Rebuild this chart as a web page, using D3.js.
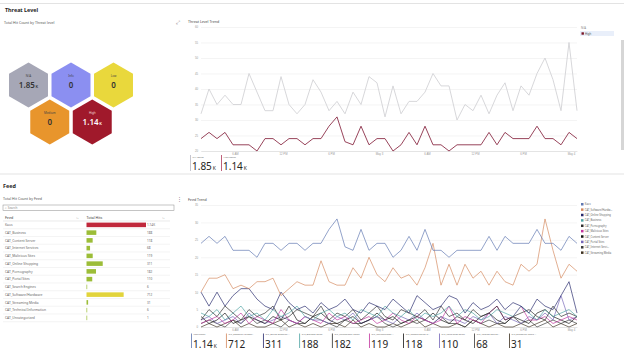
<!DOCTYPE html>
<html>
<head>
<meta charset="utf-8">
<script src="https://cdn.jsdelivr.net/npm/d3@7"></script>
<style>
    body { margin: 0; background: #fff; font-family: "Noto Sans", "Open Sans", sans-serif; }
    svg { display: block; }
</style>
</head>
<body>
<div id="chart"></div>
<script>
// ---- data ----
const threatLevels = ["N/A", "Info", "Low", "Medium", "High"];
const threatTotals = [1850, 0, 0, 0, 1140];
const threatColors = ["#a6a7b6", "#8b8ff1", "#e9d83c", "#e8952c", "#a0192b"];

// hourly points, first one at 01:45 on May 2
const trendStart = new Date(2023, 4, 2, 1, 45);
const naTrend = [32, 40, 35, 38, 35, 35, 45, 39, 33, 33, 44, 35, 32, 35, 43, 39, 33, 36, 32, 39, 35, 44, 42, 31,
    41, 32, 36, 36, 39, 45, 41, 41, 30, 35, 33, 38, 32, 38, 42, 33, 41, 38, 45, 50, 43, 33, 55, 33];
const highTrend = [24, 26, 24, 26, 22, 22, 22, 20, 24, 24, 22, 24, 24, 22, 24, 24, 28, 31, 23, 22, 28, 22, 24, 24,
    20, 22, 26, 22, 28, 22, 22, 20, 22, 22, 22, 22, 26, 22, 26, 24, 24, 24, 28, 24, 24, 22, 26, 24];
const threatTicksY = [20, 25, 30, 35, 40, 45, 50, 55, 60];

const feedNames = ["Kaos", "CAT_Business", "CAT_Content Server", "CAT_Internet Services", "CAT_Malicious Sites",
    "CAT_Online Shopping", "CAT_Pornography", "CAT_Portal Sites", "CAT_Search Engines", "CAT_Software/Hardware",
    "CAT_Streaming Media", "CAT_Technical Information", "CAT_Uncategorized"];
const feedTotals = [1140, 188, 118, 68, 119, 311, 182, 110, 6, 712, 31, 6, 1];

const trendFeeds = ["Kaos", "CAT_Software/Hardware", "CAT_Online Shopping", "CAT_Business", "CAT_Pornography",
    "CAT_Malicious Sites", "CAT_Content Server", "CAT_Portal Sites", "CAT_Internet Services", "CAT_Streaming Media"];
const trendFeedColors = ["#5f77b0", "#d4895e", "#26296c", "#4ea3a3", "#2e2e2e", "#c2349e", "#151515", "#7566b8",
    "#3a3a3a", "#3d3020"];
const kaosTrend = highTrend;
const softwareTrend = [10, 14, 14, 15, 11, 12, 11, 13, 13, 14, 9, 11, 13, 12, 12, 19, 13, 12, 12, 17, 14, 20, 15, 13,
    17, 14, 15, 12, 17, 24, 12, 18, 12, 18, 14, 16, 12, 16, 13, 12, 18, 16, 18, 31, 22, 14, 18, 16];
const shoppingTrend = [10, 6, 10, 6, 9, 11, 11, 8, 6, 5, 10, 7, 5, 6, 4, 7, 5, 6, 8, 5, 4, 7, 6, 5,
    8, 6, 4, 9, 7, 5, 6, 9, 8, 4, 7, 5, 6, 8, 5, 7, 6, 4, 8, 6, 5, 9, 13, 4];
const businessTrend = [4, 3, 5, 2, 4, 6, 3, 4, 2, 5, 3, 4, 6, 3, 2, 4, 5, 3, 4, 2, 5, 4, 3, 6,
    4, 3, 5, 2, 4, 3, 4, 6, 3, 5, 4, 2, 3, 5, 4, 3, 6, 4, 2, 5, 3, 4, 5, 3];
const pornTrend = [2, 5, 3, 6, 4, 2, 5, 3, 4, 6, 2, 3, 5, 4, 3, 6, 2, 4, 3, 5, 2, 4, 6, 3,
    2, 5, 4, 3, 5, 2, 6, 3, 4, 2, 5, 3, 4, 6, 2, 3, 4, 5, 3, 2, 6, 3, 4, 3];
const maliciousTrend = [1, 2, 3, 1, 2, 4, 1, 3, 2, 1, 5, 2, 1, 3, 2, 1, 4, 2, 3, 1, 2, 3, 1, 2,
    4, 2, 1, 3, 2, 1, 2, 6, 1, 3, 2, 1, 4, 6, 2, 3, 6, 2, 2, 3, 1, 2, 3, 2];
const contentTrend = [3, 1, 2, 4, 1, 2, 3, 2, 1, 3, 2, 6, 2, 1, 3, 4, 2, 1, 2, 3, 1, 2, 4, 2,
    3, 1, 2, 3, 2, 4, 2, 1, 3, 2, 1, 3, 4, 2, 1, 3, 2, 1, 4, 5, 3, 2, 1, 3];
const portalTrend = [2, 3, 1, 2, 3, 1, 4, 2, 1, 2, 3, 2, 1, 3, 2, 2, 1, 3, 2, 4, 1, 2, 3, 2,
    1, 3, 2, 4, 2, 1, 3, 2, 2, 1, 3, 2, 4, 1, 3, 2, 1, 3, 2, 4, 2, 9, 2, 3];
const internetTrend = [1, 2, 1, 0, 2, 1, 3, 1, 2, 1, 0, 2, 1, 1, 3, 2, 1, 0, 2, 1, 1, 2, 3, 1,
    0, 1, 2, 1, 2, 1, 3, 1, 1, 0, 2, 1, 2, 1, 1, 3, 1, 2, 0, 1, 2, 1, 2, 1];
const streamingTrend = [0, 1, 0, 1, 2, 0, 1, 0, 0, 1, 2, 0, 1, 0, 1, 0, 1, 1, 0, 2, 0, 1, 0, 0,
    1, 0, 1, 2, 0, 1, 0, 0, 1, 0, 2, 1, 0, 1, 0, 0, 1, 0, 1, 2, 0, 1, 0, 1];
const trendFeedValues = [kaosTrend, softwareTrend, shoppingTrend, businessTrend, pornTrend, maliciousTrend,
    contentTrend, portalTrend, internetTrend, streamingTrend];
const feedTicksY = [0, 5, 10, 15, 20, 25, 30, 35];

// ---- layout ----
const W = 624, H = 351;
const trendX = { left: 201, right: 577 };
const threatPlot = { top: 27, bottom: 151 };
const feedPlot = { top: 205, bottom: 327 };
const tiny = 3.6;

const svg = d3.select("#chart").append("svg").attr("width", W).attr("height", H);

// page frame
svg.append("line").attr("x1", 0).attr("x2", W).attr("y1", 3.5).attr("y2", 3.5).attr("stroke", "#e3e3e3");
svg.append("line").attr("x1", 0).attr("x2", W).attr("y1", 174).attr("y2", 174).attr("stroke", "#e3e3e3");
svg.append("rect").attr("x", 621).attr("y", 40).attr("width", 3).attr("height", 110).attr("fill", "#d6d6d6");

function text(g, x, y, s, size, opts = {}) {
    return g.append("text").attr("x", x).attr("y", y).text(s)
        .attr("font-size", size)
        .attr("fill", opts.fill || "#444")
        .attr("font-weight", opts.weight || 400)
        .attr("text-anchor", opts.anchor || "start");
}

text(svg, 5, 12, "Threat Level", 5.4, { fill: "#252423", weight: 700 });
text(svg, 4, 24, "Total Hit Count by Threat level", tiny, { fill: "#555" });
text(svg, 176, 24, "⤢", 5, { fill: "#777" });
text(svg, 188, 23, "Threat Level Trend", tiny, { fill: "#444" });

text(svg, 3, 187.5, "Feed", 5.4, { fill: "#252423", weight: 700 });
text(svg, 3, 200, "Total Hit Count by Feed", tiny, { fill: "#555" });
text(svg, 177, 200.5, "⋮", 5, { fill: "#777" });
text(svg, 188, 201, "Feed Trend", tiny, { fill: "#444" });

// ---- hexagons ----
const hexR = 22.5;
const hexDx = 42.5, hexDy = 37;
const hexOrigin = { x: 28.5, y: 85 };
const hexPos = (i) => {
    const row = i < 3 ? 0 : 1;
    const col = i < 3 ? i : i - 3 + 0.5;
    return [hexOrigin.x + col * hexDx, hexOrigin.y + row * hexDy];
};
const hexPath = d3.line()(d3.range(6).map(k => {
    const a = (Math.PI / 180) * (60 * k - 90);
    return [hexR * Math.cos(a), hexR * Math.sin(a)];
})) + "Z";
const fmtK = (v) => v >= 1000 ? [(v / 1000).toFixed(2), "K"] : [String(v), ""];

const hex = svg.append("g").selectAll("g")
    .data(threatLevels.map((l, i) => ({ level: l, total: threatTotals[i], color: threatColors[i], i })))
    .join("g")
    .attr("transform", d => `translate(${hexPos(d.i)})`);
hex.append("path").attr("d", hexPath).attr("fill", d => d.color);
hex.append("text").attr("y", -8).attr("text-anchor", "middle").attr("font-size", 3)
    .attr("fill", d => d.level === "High" ? "#f3dede" : "#444").text(d => d.level);
const hexVal = hex.append("text").attr("y", 2.5).attr("text-anchor", "middle")
    .attr("font-size", 8).attr("font-weight", 600)
    .attr("fill", d => d.level === "High" ? "#fff" : "#333");
hexVal.append("tspan").text(d => fmtK(d.total)[0]);
hexVal.append("tspan").attr("font-size", 4).attr("dx", 0.8).text(d => fmtK(d.total)[1]);

// ---- shared time axis ----
const times = naTrend.map((_, i) => d3.timeHour.offset(trendStart, i));
const x = d3.scaleTime().domain(d3.extent(times)).range([trendX.left, trendX.right]);
const tickTimes = d3.timeHour.every(6).range(times[0], d3.timeHour.offset(times[times.length - 1], 1));
const tickFmt = (d) => d.getHours() === 0 ? d3.timeFormat("%b %-d")(d) : d3.timeFormat("%-I %p")(d);

function drawFrame(plot, y, ticks) {
    const g = svg.append("g");
    g.append("g").attr("transform", `translate(${trendX.left},0)`)
        .call(d3.axisLeft(y).tickValues(ticks).tickSize(-(trendX.right - trendX.left)).tickPadding(3))
        .call(a => a.select(".domain").remove())
        .call(a => a.selectAll("line").attr("stroke", "#ececec").attr("stroke-width", 0.6))
        .call(a => a.selectAll("text").attr("font-size", 2.8).attr("fill", "#999").attr("font-family", null));
    g.append("g").attr("transform", `translate(0,${plot.bottom})`)
        .call(d3.axisBottom(x).tickValues(tickTimes).tickFormat(tickFmt).tickSize(0).tickPadding(2.5))
        .call(a => a.select(".domain").attr("stroke", "#d8d8d8").attr("stroke-width", 0.6))
        .call(a => a.selectAll("text").attr("font-size", 2.8).attr("fill", "#999").attr("font-family", null));
    return g;
}

// ---- threat trend ----
const yThreat = d3.scaleLinear().domain([20, 60]).range([threatPlot.bottom, threatPlot.top]);
drawFrame(threatPlot, yThreat, threatTicksY);
const threatLine = d3.line().x((d, i) => x(times[i])).y(d => yThreat(d));
svg.append("path").datum(naTrend).attr("d", threatLine)
    .attr("fill", "none").attr("stroke", "#d2d2d6").attr("stroke-width", 0.9);
svg.append("path").datum(highTrend).attr("d", threatLine)
    .attr("fill", "none").attr("stroke", "#8c2f48").attr("stroke-width", 0.9);

// threat legend
svg.append("rect").attr("x", 580).attr("y", 31).attr("width", 34).attr("height", 5).attr("fill", "#e9effa");
text(svg, 581, 29, "N/A", 2.8, { fill: "#888" });
svg.append("rect").attr("x", 581.5).attr("y", 32.3).attr("width", 2.4).attr("height", 2.4).attr("fill", "#7a1526");
text(svg, 585, 34.5, "High", 2.8, { fill: "#555" });

// threat summary cards
const threatCards = [
    { label: "N/A Count", value: threatTotals[0], color: "#b8b8c4" },
    { label: "High Count", value: threatTotals[4], color: "#b03a5b" }
];
let cx = 190;
threatCards.forEach(c => {
    const g = svg.append("g").attr("transform", `translate(${cx},0)`);
    g.append("rect").attr("x", 0).attr("y", 155).attr("width", 0.8).attr("height", 16).attr("fill", c.color);
    text(g, 2.5, 157.5, c.label, 2.3, { fill: "#666" });
    const t = text(g, 2, 170, "", 10, { fill: "#252423" });
    t.append("tspan").text(fmtK(c.value)[0]);
    t.append("tspan").attr("font-size", 5).attr("dx", 1).text(fmtK(c.value)[1]);
    cx += 31;
});

// ---- feed table ----
svg.append("rect").attr("x", 3).attr("y", 205).attr("width", 171).attr("height", 5.6)
    .attr("fill", "#fff").attr("stroke", "#8a8a8a").attr("stroke-width", 0.5);
text(svg, 5, 209.2, "⌕ Search", 3, { fill: "#888" });

text(svg, 5, 219, "Feed", tiny, { fill: "#333" });
text(svg, 76, 219, "↑↓", 2.6, { fill: "#666" });
text(svg, 86.5, 219, "Total Hits", tiny, { fill: "#333" });
text(svg, 162, 219, "↑↓", 2.6, { fill: "#666" });

const rowY = d3.scaleBand().domain(feedNames).range([221, 221 + feedNames.length * 7.75]);
const barX = d3.scaleLinear().domain([0, d3.max(feedTotals)]).range([0, 59.5]);
const barColor = (v) => v >= 1000 ? "#c0283b" : v >= 500 ? "#e2d43b" : "#9cbd38";
const fmtRow = (v) => v >= 1000 ? (v / 1000).toFixed(2) + "K" : String(v);

const rows = svg.append("g").selectAll("g")
    .data(feedNames.map((f, i) => ({ feed: f, total: feedTotals[i] })))
    .join("g")
    .attr("transform", d => `translate(0,${rowY(d.feed)})`);
rows.append("line").attr("x1", 3).attr("x2", 170).attr("y1", rowY.bandwidth()).attr("y2", rowY.bandwidth())
    .attr("stroke", "#ececec").attr("stroke-width", 0.6);
rows.append("text").attr("x", 5).attr("y", rowY.bandwidth() / 2 + 1.2).attr("font-size", 3.3)
    .attr("fill", "#666").text(d => d.feed);
rows.append("rect").attr("x", 86.5).attr("y", 1.6).attr("height", rowY.bandwidth() - 3.2)
    .attr("width", d => Math.max(barX(d.total), 0.7)).attr("fill", d => barColor(d.total));
rows.append("text").attr("x", 147).attr("y", rowY.bandwidth() / 2 + 1.2).attr("font-size", 3.1)
    .attr("fill", "#666").text(d => fmtRow(d.total));
svg.append("line").attr("x1", 3).attr("x2", 170).attr("y1", 221).attr("y2", 221)
    .attr("stroke", "#dcdcdc").attr("stroke-width", 0.6);

// ---- feed trend ----
const yFeed = d3.scaleLinear().domain([0, 35]).range([feedPlot.bottom, feedPlot.top]);
drawFrame(feedPlot, yFeed, feedTicksY);
const feedLine = d3.line().x((d, i) => x(times[i])).y(d => yFeed(d));
svg.append("g").selectAll("path")
    .data(trendFeedValues.map((v, i) => ({ values: v, color: trendFeedColors[i] })).reverse())
    .join("path")
    .attr("d", d => feedLine(d.values))
    .attr("fill", "none").attr("stroke", d => d.color).attr("stroke-width", 0.75)
    .attr("stroke-opacity", 0.9);

// feed legend
const legY = d3.scalePoint().domain(trendFeeds).range([204.3, 252.7]);
const leg = svg.append("g").selectAll("g").data(trendFeeds).join("g")
    .attr("transform", d => `translate(581,${legY(d)})`);
leg.append("rect").attr("x", 0).attr("y", -1.3).attr("width", 2.5).attr("height", 2.5)
    .attr("fill", (d, i) => trendFeedColors[i]);
leg.append("text").attr("x", 3.8).attr("y", 1).attr("font-size", 2.6).attr("fill", "#666")
    .text(d => d.length > 20 ? d.slice(0, 18) + "…" : d);

// feed summary cards
const cardG = svg.append("g");
let fx = 191;
trendFeeds.forEach((f, i) => {
    const total = feedTotals[feedNames.indexOf(f)];
    const g = cardG.append("g").attr("transform", `translate(${fx},0)`);
    g.append("rect").attr("x", 0).attr("y", 333.5).attr("width", 0.8).attr("height", 14.5)
        .attr("fill", trendFeedColors[i]);
    const lbl = f + " Count";
    const lt = text(g, 2.5, 335.2, lbl.length > 22 ? lbl.slice(0, 20) + "…" : lbl, 2.2, { fill: "#666" });
    const vt = text(g, 2, 347.8, "", 10, { fill: "#252423" });
    vt.append("tspan").text(fmtK(total)[0]);
    vt.append("tspan").attr("font-size", 5).attr("dx", 1).text(fmtK(total)[1]);
    const w = Math.max(lt.node().getComputedTextLength(), vt.node().getComputedTextLength());
    fx += w + 12;
});
</script>
</body>
</html>
